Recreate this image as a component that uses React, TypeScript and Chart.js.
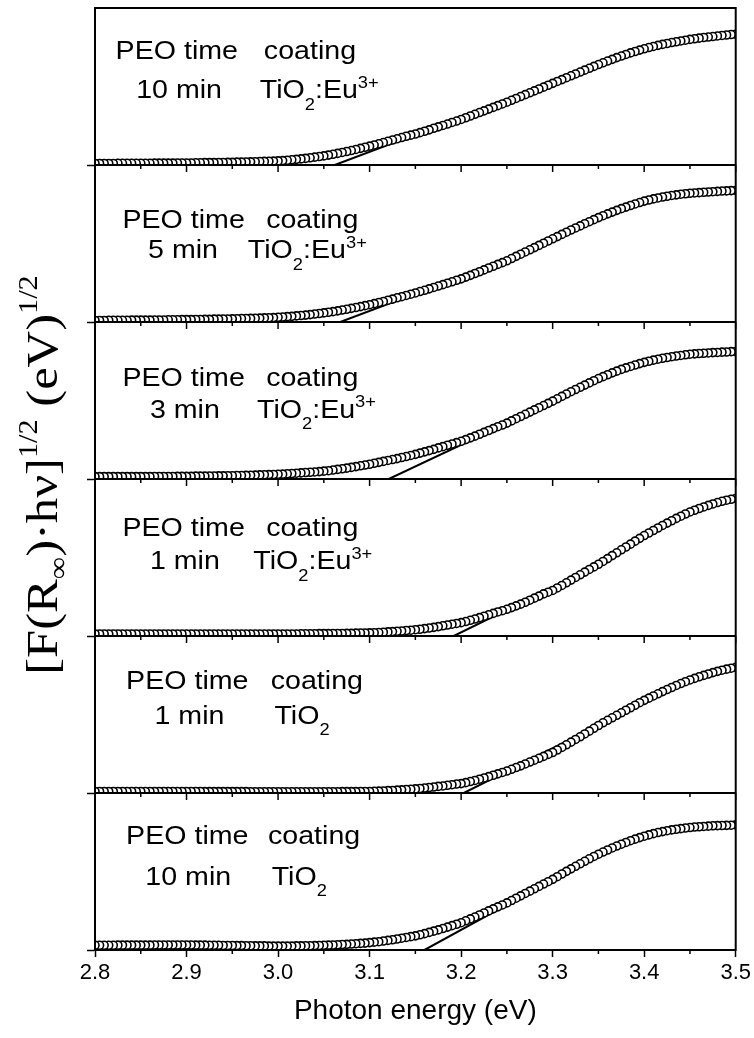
import React, { useEffect, useRef } from 'react';
import { Chart, registerables } from 'chart.js';

Chart.register(...registerables);

const SANS = "'Liberation Sans', Arial, sans-serif";
const SERIF = "'Liberation Serif', 'Times New Roman', serif";

// Photon energy grid (eV)
const energies = [
  2.800, 2.805, 2.810, 2.815, 2.820, 2.825, 2.830, 2.835, 2.840, 2.845,
  2.850, 2.855, 2.860, 2.865, 2.870, 2.875, 2.880, 2.885, 2.890, 2.895,
  2.900, 2.905, 2.910, 2.915, 2.920, 2.925, 2.930, 2.935, 2.940, 2.945,
  2.950, 2.955, 2.960, 2.965, 2.970, 2.975, 2.980, 2.985, 2.990, 2.995,
  3.000, 3.005, 3.010, 3.015, 3.020, 3.025, 3.030, 3.035, 3.040, 3.045,
  3.050, 3.055, 3.060, 3.065, 3.070, 3.075, 3.080, 3.085, 3.090, 3.095,
  3.100, 3.105, 3.110, 3.115, 3.120, 3.125, 3.130, 3.135, 3.140, 3.145,
  3.150, 3.155, 3.160, 3.165, 3.170, 3.175, 3.180, 3.185, 3.190, 3.195,
  3.200, 3.205, 3.210, 3.215, 3.220, 3.225, 3.230, 3.235, 3.240, 3.245,
  3.250, 3.255, 3.260, 3.265, 3.270, 3.275, 3.280, 3.285, 3.290, 3.295,
  3.300, 3.305, 3.310, 3.315, 3.320, 3.325, 3.330, 3.335, 3.340, 3.345,
  3.350, 3.355, 3.360, 3.365, 3.370, 3.375, 3.380, 3.385, 3.390, 3.395,
  3.400, 3.405, 3.410, 3.415, 3.420, 3.425, 3.430, 3.435, 3.440, 3.445,
  3.450, 3.455, 3.460, 3.465, 3.470, 3.475, 3.480, 3.485, 3.490, 3.495,
  3.500,
];

// [F(R)hv]^1/2, each panel normalised to its own axis (0..1)
const eu10min = [
  0.010, 0.010, 0.010, 0.010, 0.010, 0.011, 0.011, 0.011, 0.011, 0.011,
  0.011, 0.011, 0.011, 0.012, 0.012, 0.012, 0.012, 0.012, 0.013, 0.013,
  0.013, 0.013, 0.014, 0.014, 0.015, 0.015, 0.015, 0.016, 0.016, 0.017,
  0.017, 0.018, 0.018, 0.019, 0.020, 0.021, 0.022, 0.023, 0.024, 0.025,
  0.026, 0.028, 0.030, 0.033, 0.036, 0.039, 0.042, 0.046, 0.050, 0.054,
  0.058, 0.063, 0.068, 0.074, 0.080, 0.086, 0.092, 0.099, 0.106, 0.113,
  0.120, 0.127, 0.135, 0.143, 0.151, 0.159, 0.167, 0.175, 0.183, 0.190,
  0.197, 0.206, 0.215, 0.224, 0.234, 0.243, 0.252, 0.261, 0.271, 0.280,
  0.290, 0.301, 0.312, 0.323, 0.334, 0.345, 0.356, 0.367, 0.378, 0.389,
  0.400, 0.412, 0.424, 0.436, 0.448, 0.460, 0.472, 0.484, 0.496, 0.508,
  0.520, 0.532, 0.544, 0.556, 0.568, 0.580, 0.592, 0.604, 0.616, 0.628,
  0.640, 0.651, 0.662, 0.673, 0.684, 0.694, 0.704, 0.714, 0.723, 0.732,
  0.740, 0.748, 0.755, 0.762, 0.768, 0.774, 0.780, 0.785, 0.790, 0.795,
  0.800, 0.804, 0.808, 0.812, 0.815, 0.818, 0.822, 0.825, 0.828, 0.831,
  0.833,
];

const eu5min = [
  0.010, 0.010, 0.010, 0.011, 0.011, 0.011, 0.011, 0.011, 0.012, 0.012,
  0.012, 0.012, 0.012, 0.013, 0.013, 0.013, 0.014, 0.014, 0.014, 0.015,
  0.015, 0.015, 0.016, 0.016, 0.017, 0.017, 0.018, 0.018, 0.019, 0.019,
  0.020, 0.021, 0.022, 0.022, 0.023, 0.024, 0.025, 0.026, 0.027, 0.028,
  0.030, 0.032, 0.034, 0.036, 0.039, 0.041, 0.044, 0.047, 0.051, 0.054,
  0.058, 0.062, 0.066, 0.071, 0.076, 0.081, 0.087, 0.092, 0.098, 0.104,
  0.110, 0.117, 0.124, 0.131, 0.139, 0.146, 0.154, 0.161, 0.169, 0.177,
  0.185, 0.194, 0.202, 0.211, 0.220, 0.229, 0.238, 0.247, 0.256, 0.266,
  0.275, 0.286, 0.297, 0.309, 0.320, 0.332, 0.344, 0.355, 0.367, 0.378,
  0.390, 0.404, 0.418, 0.432, 0.446, 0.460, 0.474, 0.488, 0.502, 0.516,
  0.530, 0.544, 0.558, 0.572, 0.586, 0.599, 0.612, 0.626, 0.639, 0.652,
  0.665, 0.677, 0.689, 0.700, 0.711, 0.722, 0.732, 0.742, 0.752, 0.761,
  0.770, 0.777, 0.784, 0.790, 0.796, 0.801, 0.806, 0.810, 0.814, 0.817,
  0.820, 0.822, 0.824, 0.826, 0.828, 0.830, 0.832, 0.834, 0.835, 0.837,
  0.838,
];

const eu3min = [
  0.015, 0.015, 0.015, 0.015, 0.015, 0.015, 0.015, 0.015, 0.015, 0.015,
  0.015, 0.015, 0.015, 0.016, 0.016, 0.016, 0.016, 0.016, 0.017, 0.017,
  0.017, 0.017, 0.018, 0.018, 0.018, 0.019, 0.019, 0.020, 0.020, 0.021,
  0.021, 0.022, 0.022, 0.023, 0.024, 0.025, 0.026, 0.027, 0.028, 0.029,
  0.030, 0.031, 0.033, 0.035, 0.037, 0.039, 0.041, 0.043, 0.045, 0.047,
  0.050, 0.053, 0.057, 0.061, 0.065, 0.069, 0.074, 0.079, 0.084, 0.089,
  0.094, 0.100, 0.106, 0.112, 0.118, 0.124, 0.130, 0.137, 0.143, 0.150,
  0.157, 0.165, 0.173, 0.181, 0.189, 0.198, 0.206, 0.215, 0.223, 0.232,
  0.240, 0.251, 0.262, 0.273, 0.285, 0.297, 0.309, 0.321, 0.333, 0.344,
  0.356, 0.370, 0.384, 0.398, 0.412, 0.426, 0.440, 0.454, 0.468, 0.482,
  0.496, 0.511, 0.526, 0.541, 0.556, 0.570, 0.584, 0.598, 0.612, 0.626,
  0.640, 0.652, 0.664, 0.676, 0.687, 0.698, 0.708, 0.717, 0.726, 0.735,
  0.743, 0.750, 0.757, 0.763, 0.769, 0.774, 0.779, 0.783, 0.787, 0.791,
  0.795, 0.797, 0.799, 0.801, 0.803, 0.805, 0.806, 0.808, 0.809, 0.811,
  0.812,
];

const eu1min = [
  0.013, 0.013, 0.013, 0.013, 0.013, 0.013, 0.013, 0.013, 0.013, 0.013,
  0.013, 0.013, 0.013, 0.013, 0.013, 0.013, 0.013, 0.013, 0.013, 0.013,
  0.013, 0.013, 0.013, 0.013, 0.013, 0.013, 0.013, 0.013, 0.013, 0.013,
  0.013, 0.013, 0.013, 0.013, 0.013, 0.013, 0.013, 0.013, 0.013, 0.013,
  0.013, 0.013, 0.013, 0.013, 0.013, 0.014, 0.014, 0.014, 0.014, 0.015,
  0.015, 0.015, 0.016, 0.016, 0.016, 0.017, 0.017, 0.018, 0.019, 0.019,
  0.020, 0.021, 0.022, 0.024, 0.026, 0.028, 0.030, 0.032, 0.035, 0.037,
  0.040, 0.043, 0.047, 0.051, 0.055, 0.060, 0.065, 0.070, 0.075, 0.080,
  0.085, 0.092, 0.100, 0.108, 0.117, 0.126, 0.135, 0.144, 0.153, 0.161,
  0.170, 0.181, 0.192, 0.203, 0.215, 0.228, 0.241, 0.254, 0.268, 0.279,
  0.290, 0.306, 0.322, 0.339, 0.356, 0.373, 0.390, 0.407, 0.424, 0.440,
  0.457, 0.475, 0.493, 0.512, 0.530, 0.549, 0.567, 0.585, 0.604, 0.622,
  0.640, 0.656, 0.672, 0.688, 0.704, 0.719, 0.734, 0.749, 0.763, 0.777,
  0.790, 0.801, 0.812, 0.822, 0.832, 0.841, 0.850, 0.858, 0.865, 0.871,
  0.876,
];

const tio1min = [
  0.010, 0.010, 0.010, 0.010, 0.010, 0.010, 0.010, 0.010, 0.010, 0.010,
  0.010, 0.010, 0.010, 0.010, 0.010, 0.010, 0.010, 0.010, 0.010, 0.010,
  0.010, 0.010, 0.010, 0.010, 0.009, 0.009, 0.009, 0.009, 0.009, 0.009,
  0.009, 0.009, 0.009, 0.009, 0.008, 0.008, 0.008, 0.008, 0.008, 0.008,
  0.008, 0.008, 0.008, 0.008, 0.008, 0.008, 0.008, 0.008, 0.008, 0.008,
  0.008, 0.008, 0.008, 0.008, 0.009, 0.009, 0.009, 0.009, 0.010, 0.010,
  0.010, 0.011, 0.012, 0.013, 0.015, 0.016, 0.018, 0.020, 0.022, 0.024,
  0.026, 0.029, 0.032, 0.035, 0.038, 0.042, 0.045, 0.049, 0.053, 0.057,
  0.060, 0.066, 0.073, 0.080, 0.088, 0.096, 0.104, 0.113, 0.122, 0.131,
  0.140, 0.151, 0.162, 0.173, 0.185, 0.197, 0.209, 0.221, 0.233, 0.246,
  0.258, 0.274, 0.290, 0.307, 0.324, 0.341, 0.358, 0.376, 0.394, 0.412,
  0.430, 0.447, 0.463, 0.479, 0.495, 0.511, 0.527, 0.543, 0.559, 0.575,
  0.590, 0.604, 0.618, 0.632, 0.646, 0.659, 0.672, 0.685, 0.697, 0.709,
  0.720, 0.730, 0.740, 0.749, 0.758, 0.767, 0.775, 0.782, 0.789, 0.795,
  0.800,
];

const tio10min = [
  0.030, 0.030, 0.030, 0.030, 0.030, 0.031, 0.031, 0.031, 0.031, 0.031,
  0.031, 0.031, 0.031, 0.032, 0.032, 0.032, 0.032, 0.032, 0.032, 0.032,
  0.032, 0.032, 0.031, 0.031, 0.031, 0.030, 0.030, 0.030, 0.029, 0.029,
  0.029, 0.028, 0.028, 0.027, 0.027, 0.026, 0.026, 0.026, 0.025, 0.025,
  0.025, 0.025, 0.025, 0.025, 0.026, 0.026, 0.027, 0.027, 0.028, 0.029,
  0.030, 0.031, 0.032, 0.033, 0.035, 0.036, 0.038, 0.040, 0.042, 0.044,
  0.047, 0.050, 0.053, 0.057, 0.061, 0.065, 0.070, 0.075, 0.080, 0.085,
  0.090, 0.097, 0.104, 0.112, 0.120, 0.128, 0.137, 0.146, 0.155, 0.164,
  0.174, 0.186, 0.198, 0.210, 0.223, 0.236, 0.249, 0.262, 0.275, 0.287,
  0.300, 0.315, 0.330, 0.345, 0.360, 0.375, 0.390, 0.405, 0.420, 0.435,
  0.450, 0.467, 0.484, 0.501, 0.517, 0.533, 0.549, 0.565, 0.581, 0.596,
  0.610, 0.624, 0.637, 0.650, 0.662, 0.674, 0.685, 0.696, 0.706, 0.716,
  0.725, 0.733, 0.741, 0.748, 0.754, 0.760, 0.765, 0.769, 0.773, 0.777,
  0.780, 0.783, 0.785, 0.787, 0.789, 0.791, 0.792, 0.793, 0.794, 0.795,
  0.797,
];

const panelSeries = [eu10min, eu5min, eu3min, eu1min, tio1min, tio10min];
const peoTimes = ['10 min', '5 min', '3 min', '1 min', '1 min', '10 min'];
const coatingHasEu = [true, true, true, true, false, false];

// Linear (Tauc) extrapolation lines: start on baseline, end on the edge
const tangentStartX = [3.062, 3.068, 3.121, 3.192, 3.203, 3.160];
const tangentEndX = [3.280, 3.280, 3.310, 3.370, 3.380, 3.330];
const tangentEndY = [0.480, 0.466, 0.520, 0.510, 0.520, 0.544];

// Label placement (in axis units of each panel)
const textLayout = [
  { x1: 2.8225, xc: 2.9845, y1: 0.673, x2: 2.845, xt: 2.980, y2: 0.427 },
  { x1: 2.830, xc: 2.987, y1: 0.600, x2: 2.858, xt: 2.967, y2: 0.405 },
  { x1: 2.830, xc: 2.987, y1: 0.592, x2: 2.860, xt: 2.977, y2: 0.390 },
  { x1: 2.830, xc: 2.987, y1: 0.640, x2: 2.860, xt: 2.973, y2: 0.425 },
  { x1: 2.834, xc: 2.992, y1: 0.662, x2: 2.865, xt: 2.996, y2: 0.441 },
  { x1: 2.834, xc: 2.989, y1: 0.672, x2: 2.855, xt: 2.993, y2: 0.417 },
];

const PANEL_FONT = 26;
const PANEL_STRETCH = 1.1;
const YLABEL_FONT = 44;
const YLABEL_STRETCH = 1.15;

function isMajor(v: number) {
  return Math.abs(v * 10 - Math.round(v * 10)) < 1e-4;
}

type Seg = { t: string; k?: number; dy?: number };

function segWidth(ctx: CanvasRenderingContext2D, segs: Seg[], size: number, family: string) {
  let w = 0;
  for (const s of segs) {
    ctx.font = `${size * (s.k ?? 1)}px ${family}`;
    w += ctx.measureText(s.t).width;
  }
  return w;
}

function drawSegs(ctx: CanvasRenderingContext2D, segs: Seg[], x: number, y: number, size: number, family: string) {
  let cx = x;
  for (const s of segs) {
    ctx.font = `${size * (s.k ?? 1)}px ${family}`;
    ctx.fillText(s.t, cx, y + (s.dy ?? 0) * size);
    cx += ctx.measureText(s.t).width;
  }
}

function drawStretched(ctx: CanvasRenderingContext2D, segs: Seg[], x: number, y: number) {
  ctx.save();
  ctx.translate(x, y);
  ctx.scale(PANEL_STRETCH, 1);
  drawSegs(ctx, segs, 0, 0, PANEL_FONT, SANS);
  ctx.restore();
}

const panelPlugin = {
  id: 'panelFrame',
  afterDatasetsDraw(chart: any) {
    const { ctx, chartArea: a } = chart;
    const xs = chart.scales.x;
    ctx.save();
    ctx.strokeStyle = '#000';
    ctx.lineWidth = 2;
    ctx.strokeRect(a.left, a.top, a.right - a.left, a.bottom - a.top);
    for (let p = 0; p < panelSeries.length; p++) {
      const ys = chart.scales['y' + p];
      const yb = ys.getPixelForValue(0);
      ctx.lineWidth = 2;
      ctx.beginPath();
      ctx.moveTo(a.left, yb);
      ctx.lineTo(a.right, yb);
      ctx.stroke();
      ctx.lineWidth = 1.5;
      for (const t of xs.ticks) {
        const major = isMajor(t.value);
        if (p === panelSeries.length - 1 && major) continue;
        const px = xs.getPixelForValue(t.value);
        const len = major ? 7 : 4;
        ctx.beginPath();
        ctx.moveTo(px, yb);
        ctx.lineTo(px, yb + len);
        ctx.stroke();
      }
    }
    ctx.restore();
  },
  afterDraw(chart: any) {
    const { ctx, chartArea: a } = chart;
    const xs = chart.scales.x;
    ctx.save();
    ctx.fillStyle = '#000';
    ctx.textAlign = 'left';
    ctx.textBaseline = 'alphabetic';
    for (let p = 0; p < panelSeries.length; p++) {
      const ys = chart.scales['y' + p];
      const L = textLayout[p];
      const y1 = ys.getPixelForValue(L.y1);
      const y2 = ys.getPixelForValue(L.y2);
      drawStretched(ctx, [{ t: 'PEO time' }], xs.getPixelForValue(L.x1), y1);
      drawStretched(ctx, [{ t: 'coating' }], xs.getPixelForValue(L.xc), y1);
      drawStretched(ctx, [{ t: peoTimes[p] }], xs.getPixelForValue(L.x2), y2);
      const chem: Seg[] = coatingHasEu[p]
        ? [{ t: 'TiO' }, { t: '2', k: 0.64, dy: 0.45 }, { t: ':Eu' }, { t: '3+', k: 0.64, dy: -0.4 }]
        : [{ t: 'TiO' }, { t: '2', k: 0.64, dy: 0.45 }];
      drawStretched(ctx, chem, xs.getPixelForValue(L.xt), y2);
    }
    // rotated y-axis title
    const ySegs: Seg[] = [
      { t: '[F(R' },
      { t: '\u221E', k: 0.62, dy: 0.22 },
      { t: ')\u00B7h\u03BD]' },
      { t: '1/2', k: 0.6, dy: -0.45 },
      { t: ' (eV)' },
      { t: '1/2', k: 0.6, dy: -0.45 },
    ];
    const w = segWidth(ctx, ySegs, YLABEL_FONT, SERIF);
    ctx.translate(57, 475);
    ctx.rotate(-Math.PI / 2);
    ctx.scale(YLABEL_STRETCH, 1);
    drawSegs(ctx, ySegs, -w / 2, 0, YLABEL_FONT, SERIF);
    ctx.restore();
  },
};

export default function App() {
  const ref = useRef<HTMLCanvasElement>(null);
  useEffect(() => {
    if (!ref.current) return;
    const datasets: any[] = [];
    panelSeries.forEach((vals, p) => {
      const pts = energies.map((e, i) => ({ x: e, y: vals[i] })).reverse();
      datasets.push({
        label: `${peoTimes[p]} ${coatingHasEu[p] ? 'TiO2:Eu3+' : 'TiO2'}`,
        data: pts,
        yAxisID: 'y' + p,
        xAxisID: 'x',
        showLine: false,
        pointStyle: 'circle',
        pointRadius: 4,
        pointBorderWidth: 1.6,
        pointBorderColor: '#000',
        pointBackgroundColor: '#fff',
        order: 0,
      });
      datasets.push({
        label: 'fit ' + p,
        data: [
          { x: tangentStartX[p], y: 0 },
          { x: tangentEndX[p], y: tangentEndY[p] },
        ],
        yAxisID: 'y' + p,
        xAxisID: 'x',
        showLine: true,
        borderColor: '#000',
        borderWidth: 2,
        pointRadius: 0,
        order: 1,
      });
    });

    const scales: any = {
      x: {
        type: 'linear',
        position: 'bottom',
        min: 2.8,
        max: 3.5,
        ticks: {
          stepSize: 0.05,
          autoSkip: false,
          maxRotation: 0,
          padding: 3,
          color: '#000',
          font: { family: SANS, size: 22 },
          callback: (v: number) => (isMajor(v) ? v.toFixed(1) : ''),
        },
        grid: {
          drawOnChartArea: false,
          drawTicks: true,
          tickLength: 7,
          tickWidth: 1.5,
          tickColor: (c: any) => (c.tick && isMajor(c.tick.value) ? '#000' : 'rgba(0,0,0,0)'),
        },
        border: { display: true, color: '#000', width: 2 },
        title: {
          display: true,
          text: 'Photon energy (eV)',
          color: '#000',
          font: { family: SANS, size: 28 },
          padding: { top: 0, bottom: 10 },
        },
        afterFit: (s: any) => {
          s.height = 88;
        },
      },
    };
    panelSeries.forEach((_, p) => {
      scales['y' + p] = {
        type: 'linear',
        position: 'left',
        stack: 'panels',
        stackWeight: 1,
        weight: panelSeries.length - p,
        min: 0,
        max: 1,
        afterBuildTicks: (s: any) => {
          s.ticks = [{ value: 0 }];
        },
        ticks: { display: false },
        grid: { drawOnChartArea: false, drawTicks: true, tickLength: 8, tickWidth: 1.5, tickColor: '#000' },
        border: { display: true, color: '#000', width: 2 },
        afterFit: (s: any) => {
          s.width = 95;
        },
      };
    });

    const chart = new Chart(ref.current, {
      type: 'scatter',
      data: { datasets },
      options: {
        animation: false,
        responsive: false,
        devicePixelRatio: 1,
        events: [],
        layout: { padding: { top: 8, right: 16, left: 0, bottom: 0 } },
        plugins: { legend: { display: false }, tooltip: { enabled: false } },
        scales,
      } as any,
      plugins: [panelPlugin as any],
    });
    return () => chart.destroy();
  }, []);

  return (
    <div style={{ position: 'absolute', left: 0, top: 0, width: 754, height: 1038, background: '#fff' }}>
      <canvas ref={ref} width={754} height={1038} style={{ display: 'block', width: 754, height: 1038 }} />
    </div>
  );
}
